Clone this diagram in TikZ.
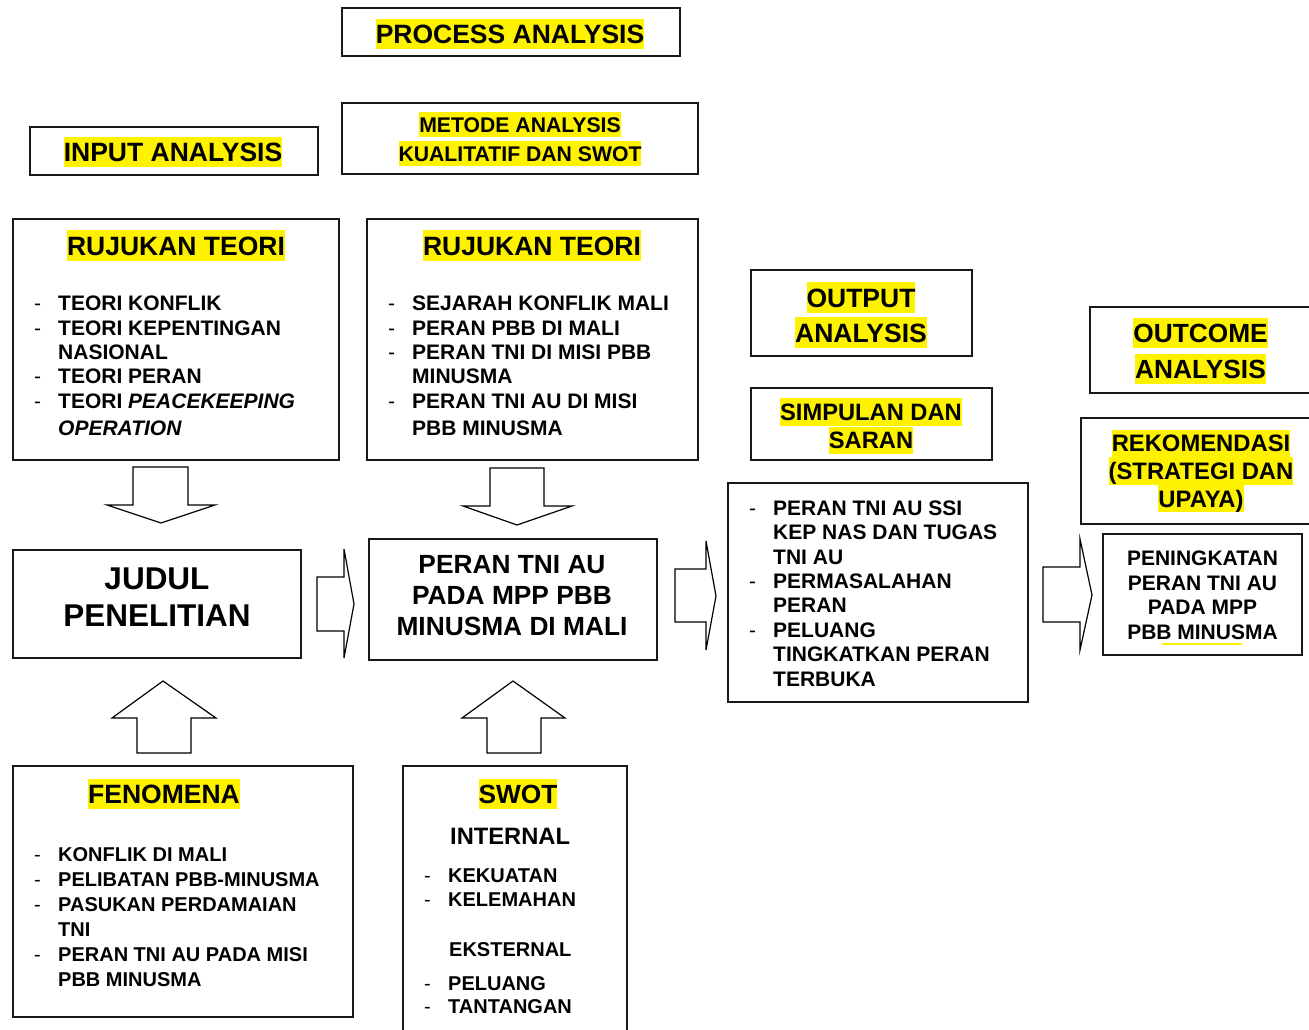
\documentclass[tikz,border=0pt]{standalone}
\usepackage{fontspec}
\setmainfont{Liberation Sans}
\usetikzlibrary{fit}

\newcommand{\fsz}[2]{\fontsize{#1}{#2}\selectfont}
\newcommand{\hlt}[1]{{\setlength{\fboxsep}{0pt}\colorbox{yellow}{\rule[-0.21em]{0pt}{1.14em}#1}}}
\newcommand{\dsh}{\makebox[24pt][l]{\mdseries -}}
\newcommand{\nodsh}{\hspace*{24pt}}

\tikzset{
  box/.style={draw=black!90, line width=1.5pt, inner sep=0pt},
  blockarrow/.style={draw=black, line width=1.2pt, fill=white, line join=miter},
  ttl/.style={inner sep=0pt, align=center},
  lst/.style={inner sep=0pt, anchor=west, align=left},
}

\begin{document}
\begin{tikzpicture}[x=1pt,y=1pt,yscale=-1,xscale=1]
\useasboundingbox (0,0) rectangle (1309,1030);

%Boxes
\node[box, fit={(342,8) (680,56)}] (process) {};
\node[box, fit={(342,103) (698,174)}] (metode) {};
\node[box, fit={(30,127) (318,175)}] (input) {};
\node[box, fit={(13,219) (339,460)}] (teori1) {};
\node[box, fit={(367,219) (698,460)}] (teori2) {};
\node[box, fit={(751,270) (972,356)}] (output) {};
\node[box, fit={(751,388) (992,460)}] (simpulan) {};
\node[box, fit={(1090,307) (1330,393)}] (outcome) {};
\node[box, fit={(1081,418) (1330,524)}] (rekom) {};
\node[box, fit={(728,483) (1028,702)}] (hasil) {};
\node[box, fit={(1103,534) (1302,655)}] (tingkat) {};
\node[box, fit={(13,550) (301,658)}] (judul) {};
\node[box, fit={(369,539) (657,660)}] (peran) {};
\node[box, fit={(13,766) (353,1017)}] (fenomena) {};
\node[box, fit={(403,766) (627,1045)}] (swot) {};

%Block Arrows (down)
\draw[blockarrow] (133,467) -- (188,467) -- (188,505) -- (215,505) -- (161,523) -- (107,505) -- (133,505) -- cycle;
\draw[blockarrow] (490,468) -- (544,468) -- (544,506) -- (572,506) -- (517,525) -- (463,506) -- (490,506) -- cycle;
%Block Arrows (up)
\draw[blockarrow] (137,753) -- (137,718) -- (112,718) -- (163,681) -- (216,718) -- (191,718) -- (191,753) -- cycle;
\draw[blockarrow] (487,753) -- (487,718) -- (462,718) -- (513,681) -- (565,718) -- (541,718) -- (541,753) -- cycle;
%Block Arrows (right)
\draw[blockarrow] (317,577) -- (344,577) -- (344,549) -- (354,604) -- (344,658) -- (344,631) -- (317,631) -- cycle;
\draw[blockarrow] (675,569) -- (706,569) -- (706,541) -- (716,596) -- (706,650) -- (706,622) -- (675,622) -- cycle;
\draw[blockarrow] (1043,567) -- (1080,567) -- (1080,539) -- (1092,595) -- (1080,650) -- (1080,622) -- (1043,622) -- cycle;

% Text Node
\node[ttl, font=\bfseries\fsz{26.5}{30}] (processtxt) at (510,34) {\hlt{PROCESS ANALYSIS}};
% Text Node
\node[ttl, font=\bfseries\fsz{21.2}{29}] (metodetxt) at (520,139) {\hlt{METODE ANALYSIS}\\\hlt{KUALITATIF DAN SWOT}};
% Text Node
\node[ttl, font=\bfseries\fsz{26.5}{30}] (inputtxt) at (173,152) {\hlt{INPUT ANALYSIS}};
% Text Node
\node[ttl, font=\bfseries\fsz{26.5}{30}] (teori1ttl) at (176,245.5) {\hlt{RUJUKAN TEORI}};
% Text Node
\node[lst, font=\bfseries\fsz{21}{24.4}] (teori1lst) at (34,366) {\dsh TEORI KONFLIK\\\dsh TEORI KEPENTINGAN\\\nodsh NASIONAL\\\dsh TEORI PERAN\\\dsh TEORI \textit{PEACEKEEPING}\\[3pt]\nodsh\textit{OPERATION}};
% Text Node
\node[ttl, font=\bfseries\fsz{26.5}{30}] (teori2ttl) at (532,245.5) {\hlt{RUJUKAN TEORI}};
% Text Node
\node[lst, font=\bfseries\fsz{21}{24.4}] (teori2lst) at (388,366) {\dsh SEJARAH KONFLIK MALI\\\dsh PERAN PBB DI MALI\\\dsh PERAN TNI DI MISI PBB\\\nodsh MINUSMA\\\dsh PERAN TNI AU DI MISI\\[3pt]\nodsh PBB MINUSMA};
% Text Node
\node[ttl, font=\bfseries\fsz{26.5}{35}] (outputtxt) at (861,315) {\hlt{OUTPUT}\\\hlt{ANALYSIS}};
% Text Node
\node[ttl, font=\bfseries\fsz{23.7}{26.5}] (simpulantxt) at (871,426) {\hlt{SIMPULAN DAN}\\\hlt{SARAN}};
% Text Node
\node[ttl, font=\bfseries\fsz{26.3}{35.5}] (outcometxt) at (1200.5,351) {\hlt{OUTCOME}\\\hlt{ANALYSIS}};
% Text Node
\node[ttl, font=\bfseries\fsz{23.8}{27.7}] (rekomtxt) at (1201,471) {\hlt{REKOMENDASI}\\\hlt{(STRATEGI DAN}\\\hlt{UPAYA)}};
% Text Node
\node[lst, font=\bfseries\fsz{21}{24.4}] (hasillst) at (749,593.5) {\dsh PERAN TNI AU SSI\\\nodsh KEP NAS DAN TUGAS\\\nodsh TNI AU\\\dsh PERMASALAHAN\\\nodsh PERAN\\\dsh PELUANG\\\nodsh TINGKATKAN PERAN\\\nodsh TERBUKA};
% Text Node
\node[ttl, font=\bfseries\fsz{21}{24.5}] (tingkattxt) at (1202.5,595.5) {PENINGKATAN\\PERAN TNI AU\\PADA MPP\\PBB MINUSMA};
\draw[yellow, line width=2pt] (1162,644) -- (1242,644);
% Text Node
\node[ttl, font=\bfseries\fsz{31.5}{37}] (judultxt) at (157,597.5) {JUDUL\\PENELITIAN};
% Text Node
\node[ttl, font=\bfseries\fsz{26.3}{31}] (perantxt) at (512,596) {PERAN TNI AU\\PADA MPP PBB\\MINUSMA DI MALI};
% Text Node
\node[ttl, font=\bfseries\fsz{26.5}{30}] (fenomenattl) at (164,794) {\hlt{FENOMENA}};
% Text Node
\node[lst, font=\bfseries\fsz{20}{25.1}] (fenomenalst) at (34,917) {\dsh KONFLIK DI MALI\\\dsh PELIBATAN PBB-MINUSMA\\\dsh PASUKAN PERDAMAIAN\\\nodsh TNI\\\dsh PERAN TNI AU PADA MISI\\\nodsh PBB MINUSMA};
% Text Node
\node[ttl, font=\bfseries\fsz{26.3}{30}] (swotttl) at (518,794) {\hlt{SWOT}};
% Text Node
\node[lst, font=\bfseries\fsz{23.7}{28}] (internal) at (450,836.5) {INTERNAL};
% Text Node
\node[lst, font=\bfseries\fsz{20}{24}] (internallst) at (424,887.5) {\dsh KEKUATAN\\\dsh KELEMAHAN};
% Text Node
\node[lst, font=\bfseries\fsz{20}{24}] (eksternal) at (449,949.5) {EKSTERNAL};
% Text Node
\node[lst, font=\bfseries\fsz{20}{23}] (eksternallst) at (424,995) {\dsh PELUANG\\\dsh TANTANGAN};

\end{tikzpicture}
\end{document}
